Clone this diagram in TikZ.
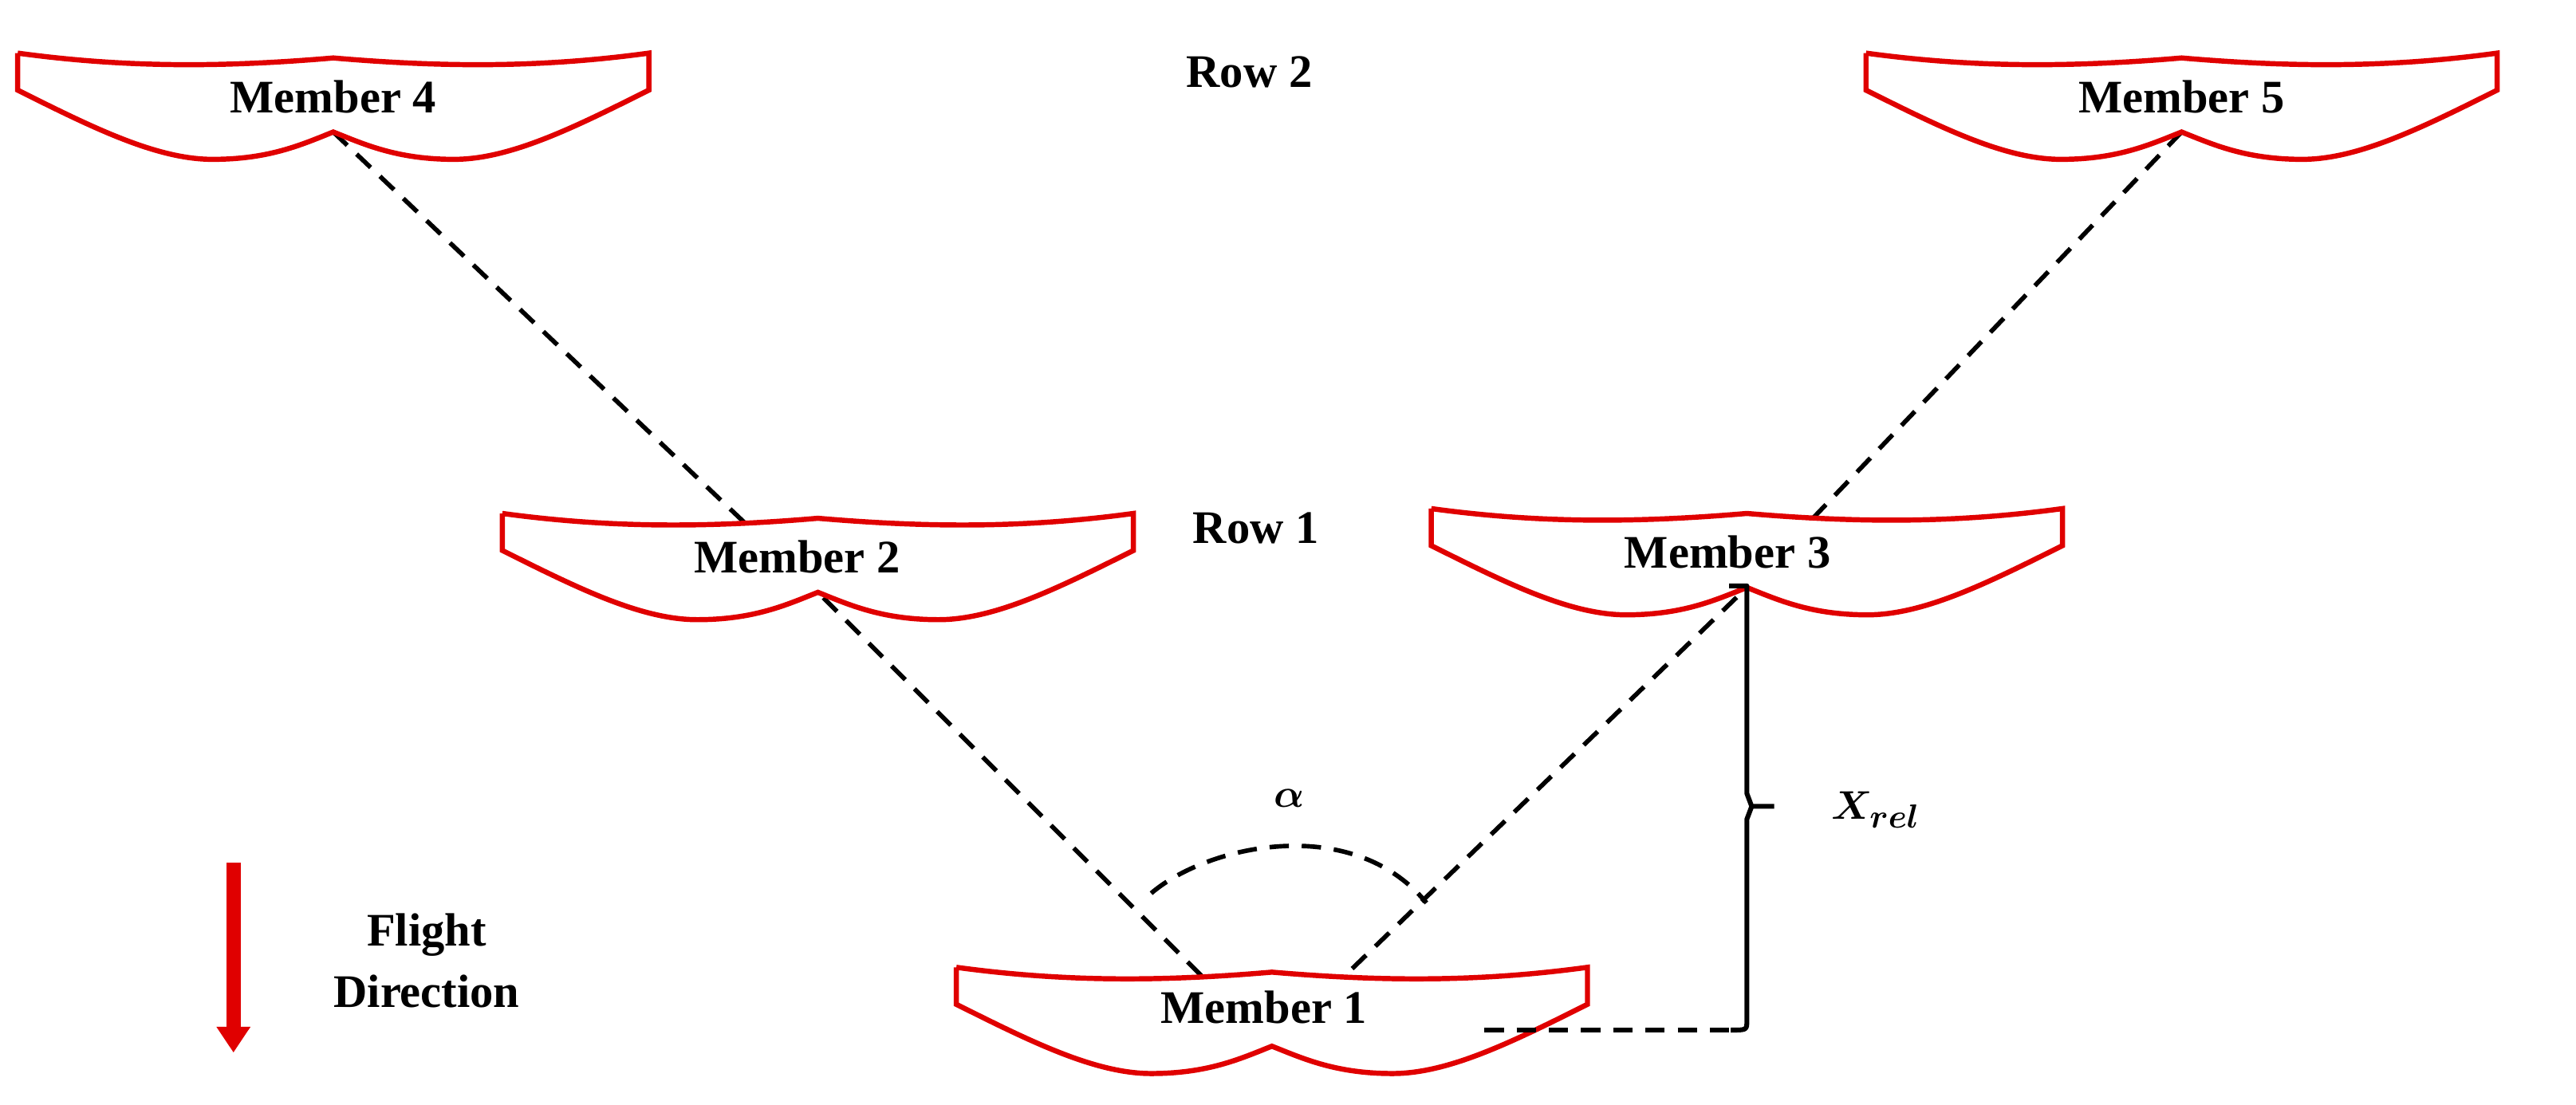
\documentclass[tikz,border=0pt]{standalone}
\usepackage{fontspec}
\setmainfont{Liberation Serif}
\usepackage{amsmath}
\usetikzlibrary{calc,arrows.meta}
\definecolor{wred}{RGB}{224,0,0}
\tikzset{
  dashln/.style={black,line width=2.8pt,dash pattern=on 12pt off 8pt},
  lbl/.style={font=\fontsize{29}{32}\selectfont\bfseries,inner sep=0pt},
  wing/.pic={
    \draw[wred,line width=3.2pt,fill=white,line join=miter]
      (-196,-49) -- (-196,-26)
      .. controls (-150,-3) and (-110,17) .. (-75,17)
      .. controls (-40,17) and (-20,8) .. (0,0)
      .. controls (20,8) and (40,17) .. (75,17)
      .. controls (110,17) and (150,-3) .. (196,-26)
      -- (196,-49)
      .. controls (130,-40) and (70,-40) .. (0,-46)
      .. controls (-70,-40) and (-130,-40) .. (-196,-49);
    \coordinate (-n) at (0,0);
  }
}
\begin{document}
\begin{tikzpicture}[x=1pt,y=-1pt]
\useasboundingbox (0,0) rectangle (1600,686.5);
\coordinate (n1) at (790,650);
\coordinate (n2) at (508,368);
\coordinate (n3) at (1085,365);
\coordinate (n4) at (207,82);
\coordinate (n5) at (1355,82);
% dashed formation lines
\draw[dashln] (n4) -- (n2) -- (n1);
\draw[dashln] (n5) -- (n3) -- (n1);
% wings
\pic (w1) at (n1) {wing};
\pic (w2) at (n2) {wing};
\pic (w3) at (n3) {wing};
\pic (w4) at (n4) {wing};
\pic (w5) at (n5) {wing};
\node[lbl] (m1) at ($(n1)+(-5,-24)$) {Member 1};
\node[lbl] (m2) at ($(n2)+(-13,-22)$) {Member 2};
\node[lbl] (m3) at ($(n3)+(-12,-22)$) {Member 3};
\node[lbl] (m4) at ($(n4)+(0,-22)$) {Member 4};
\node[lbl] (m5) at ($(n5)+(0,-22)$) {Member 5};
\node[lbl] (r2) at (776,45) {Row 2};
\node[lbl] (r1) at (780,328) {Row 1};
% angle
\coordinate (a1) at (715,555);
\coordinate (a2) at (886,561);
\draw[dashln] (a1) .. controls (750,525) and (840,505) .. (a2);
\node[inner sep=0pt,font=\fontsize{30}{32}\selectfont] (al) at (801,496) {$\boldsymbol{\alpha}$};
% Xrel bracket
\coordinate (b0) at (922,640);
\coordinate (bt) at (1085,364);
\coordinate (bb) at (1085,640);
\draw[dashln] (b0) -- (1075,640);
\draw[black,line width=3pt,line join=round] (1074,364) -- (bt) -- (1085,493) -- (1088,501) -- (1102,501);
\draw[black,line width=3pt,line join=round] (1088,501) -- (1085,509) -- (1085,634) .. controls (1085,640) .. (1075,640);
\node[inner sep=0pt,font=\fontsize{30}{32}\selectfont] (xr) at (1165,503) {$\boldsymbol{X_{rel}}$};
% flight direction
\coordinate (f0) at (145,536);
\coordinate (f1) at (145,654);
\draw[wred,line width=9pt,-{Triangle[length=16pt,width=20pt]}] (f0) -- (f1);
\node[lbl,align=center] (fd) at (265,597) {Flight\\[6pt]Direction};
\end{tikzpicture}
\end{document}
